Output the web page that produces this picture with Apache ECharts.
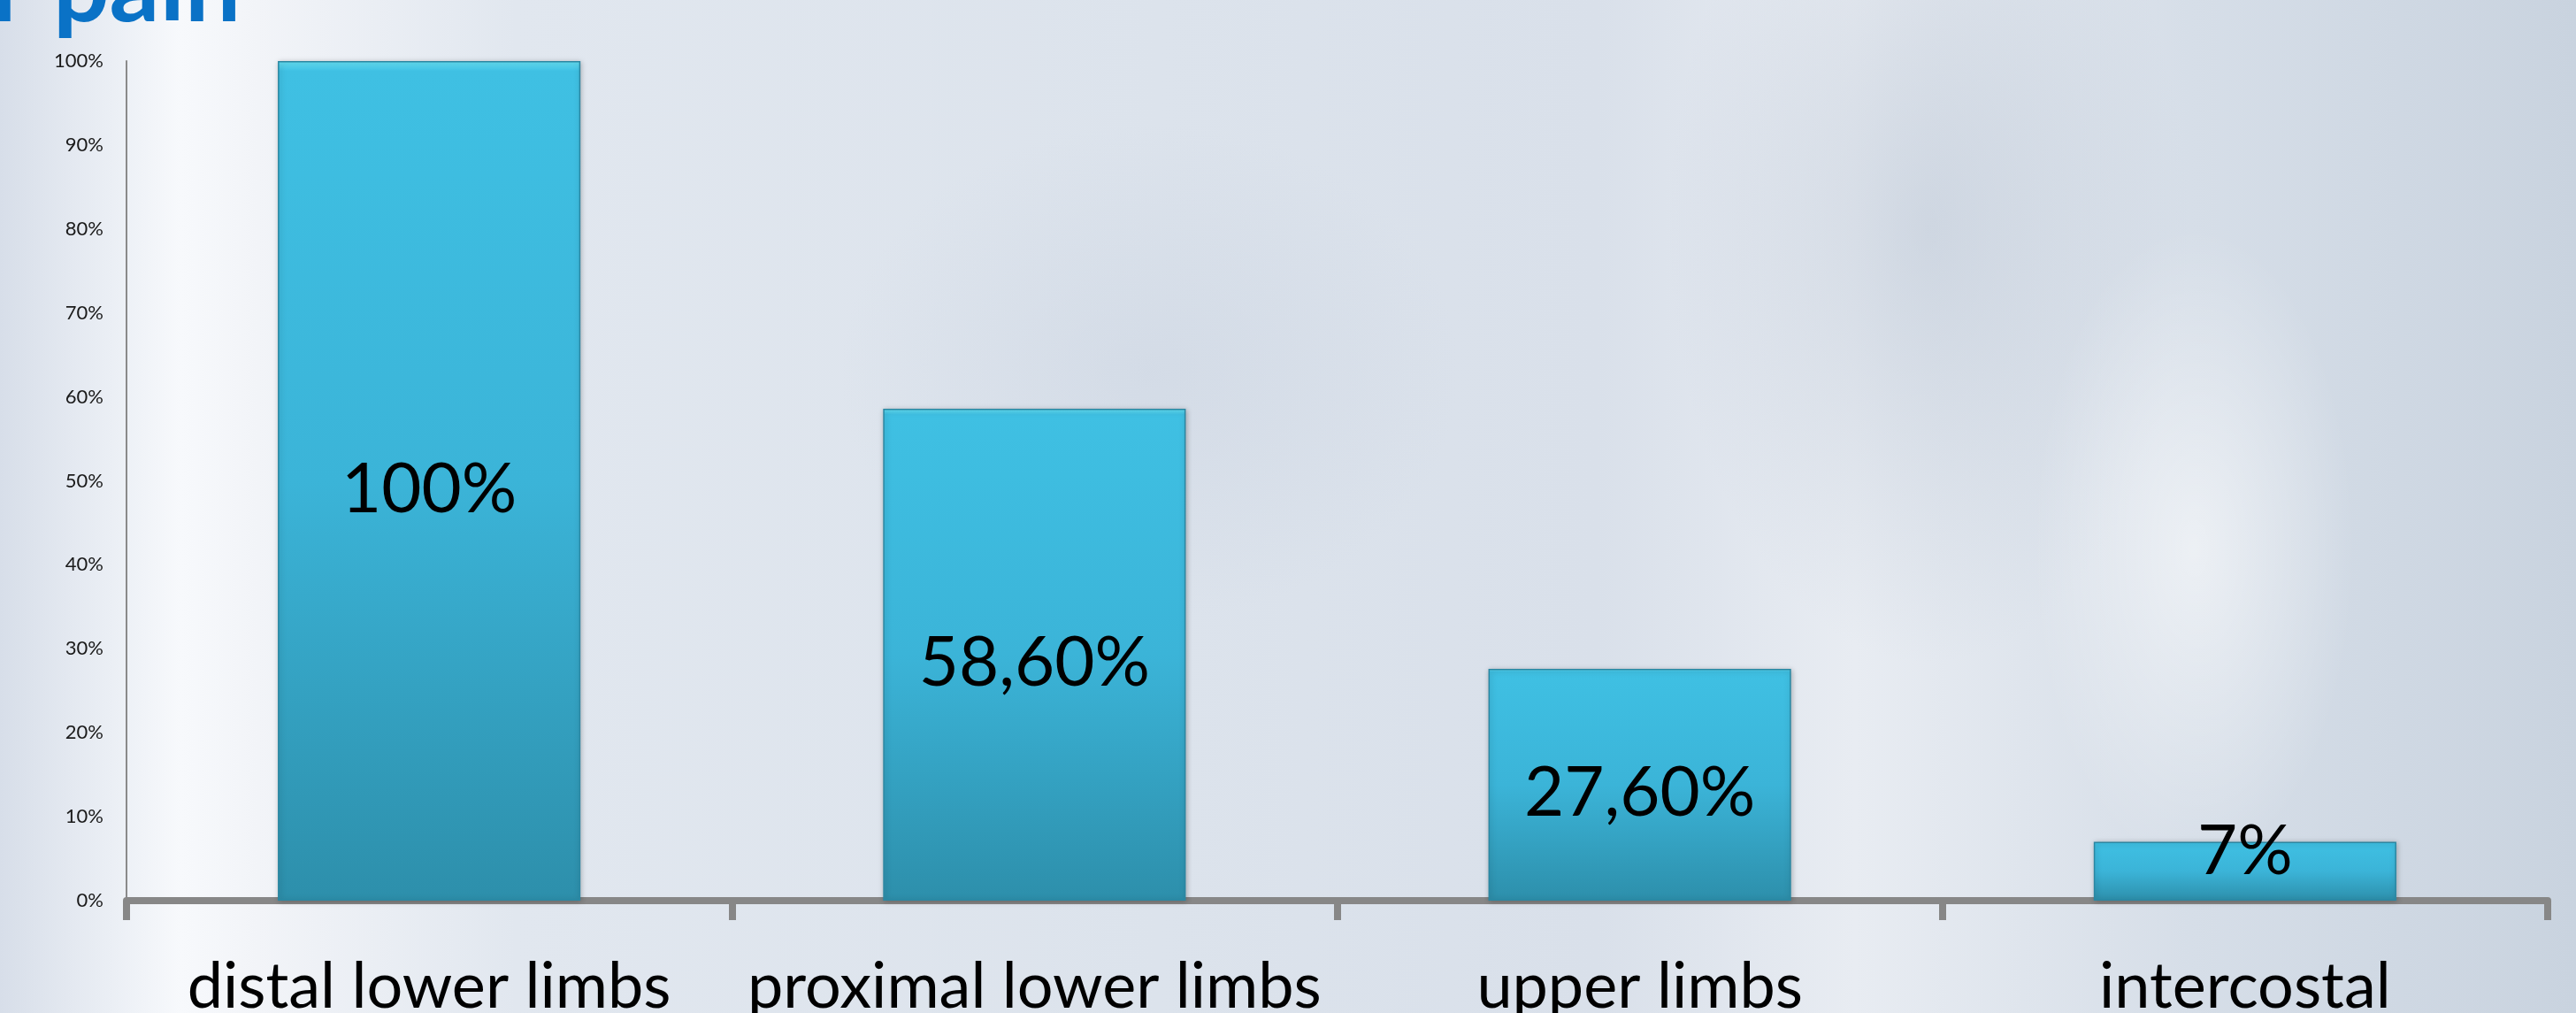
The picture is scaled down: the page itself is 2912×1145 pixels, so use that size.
<!DOCTYPE html>
<html>
<head>
<meta charset="utf-8">
<script src="https://cdn.jsdelivr.net/npm/echarts@6/dist/echarts.min.js"></script>
<style>
  html, body { margin: 0; padding: 0; }
  #chart-box {
    width: 2912px; height: 1145px;
    background:
      radial-gradient(ellipse 260px 520px at 2480px 620px, rgba(255,255,255,0.55), rgba(255,255,255,0) 70%),
      radial-gradient(ellipse 420px 700px at 2180px 260px, rgba(180,192,208,0.45), rgba(180,192,208,0) 70%),
      radial-gradient(ellipse 500px 400px at 1300px 420px, rgba(195,205,220,0.35), rgba(195,205,220,0) 70%),
      linear-gradient(90deg, #d7dee9 0%, #f7f9fc 7%, #f2f4f8 10%, #e1e7ef 20%, #dce3ec 45%, #d9e0ea 62%, #e8ecf2 72%, #d6dee8 85%, #c9d3df 100%);
  }
</style>
</head>
<body>
<div id="chart-box"></div>
<script>
const categories = ['distal lower limbs', 'proximal lower limbs', 'upper limbs', 'intercostal'];
const values = [100, 58.6, 27.6, 7];
const valueLabels = ['100%', '58,60%', '27,60%', '7%'];

function init(){
    const element = document.getElementById("chart-box");
    const instance = echarts.init(element);

    const barData = values.map(function(v, i){
        return {
            value: v,
            label: {
                formatter: valueLabels[i],
                offset: v < 10 ? [0, -22] : [0, 10]
            }
        };
    });

    let option = {
        animation: false,
        title: {
            text: 'r pain',
            left: -14,
            top: -73,
            textStyle: {
                color: '#0a72c6',
                fontFamily: 'Lato',
                fontWeight: 'bold',
                fontSize: 112
            }
        },
        grid: {
            left: 143,
            right: 32,
            top: 69,
            bottom: 127,
            containLabel: false,
            outerBoundsMode: 'none'
        },
        xAxis: {
            type: 'category',
            data: categories,
            axisLine: {
                lineStyle: { color: '#878787', width: 8 }
            },
            axisTick: {
                show: true,
                interval: 0,
                length: 22,
                lineStyle: { color: '#878787', width: 8 }
            },
            axisLabel: {
                interval: 0,
                color: '#000',
                fontFamily: 'Lato',
                fontSize: 72,
                margin: 62
            }
        },
        yAxis: {
            type: 'value',
            min: 0,
            max: 100,
            interval: 10,
            splitLine: { show: false },
            axisLine: {
                show: true,
                lineStyle: { color: '#8a8a8a', width: 2 }
            },
            axisTick: { show: false },
            axisLabel: {
                formatter: '{value}%',
                color: '#1a1a1a',
                fontFamily: 'Lato',
                fontSize: 22,
                margin: 26
            }
        },
        series: [{
            type: 'bar',
            data: barData,
            barWidth: '50%',
            itemStyle: {
                color: {
                    type: 'linear', x: 0, y: 0, x2: 0, y2: 1,
                    colorStops: [
                        { offset: 0, color: '#66e2f6' },
                        { offset: 0.012, color: '#3fc0e3' },
                        { offset: 0.5, color: '#3bb4d8' },
                        { offset: 1, color: '#2d8fab' }
                    ]
                },
                borderColor: '#2b87a2',
                borderWidth: 1.5,
                shadowBlur: 6,
                shadowColor: 'rgba(0,0,0,0.25)',
                shadowOffsetX: 1,
                shadowOffsetY: 1
            },
            label: {
                show: true,
                position: 'inside',
                color: '#000',
                fontFamily: 'Lato',
                fontSize: 78
            }
        }]
    };

    instance && instance.setOption(option);

    window.onresize = function(){
        instance.resize();
    };
}
init();
</script>
</body>
</html>
